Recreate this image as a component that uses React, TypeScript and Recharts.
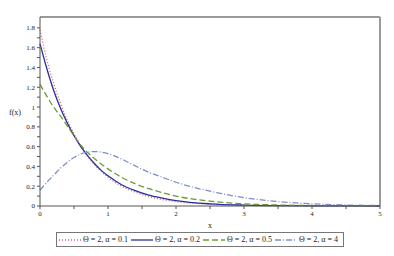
import { Line, LineChart, ReferenceLine, XAxis, YAxis } from "recharts";

const xs = [0, 0.1, 0.2, 0.3, 0.4, 0.5, 0.6, 0.7, 0.8, 0.9, 1, 1.2, 1.4, 1.6, 1.8, 2, 2.5, 3, 3.5, 4, 4.5, 5];

const alpha01 = [1.78, 1.48, 1.24, 1.04, 0.87, 0.73, 0.61, 0.5, 0.42, 0.35, 0.29, 0.2, 0.14, 0.095, 0.065, 0.045, 0.018, 0.007, 0.003, 0.001, 0, 0];
const alpha02 = [1.64, 1.39, 1.17, 0.99, 0.84, 0.71, 0.6, 0.51, 0.43, 0.36, 0.305, 0.215, 0.155, 0.11, 0.08, 0.055, 0.022, 0.009, 0.004, 0.002, 0.001, 0];
const alpha05 = [1.23, 1.11, 1.0, 0.91, 0.81, 0.71, 0.615, 0.54, 0.48, 0.425, 0.375, 0.29, 0.225, 0.175, 0.135, 0.1, 0.05, 0.022, 0.01, 0.005, 0.002, 0.001];
const alpha4 = [0.16, 0.24, 0.31, 0.38, 0.44, 0.49, 0.525, 0.545, 0.55, 0.545, 0.53, 0.475, 0.405, 0.34, 0.29, 0.24, 0.15, 0.085, 0.045, 0.022, 0.01, 0.005];

const xTicks = [0, 0.5, 1, 1.5, 2, 2.5, 3, 3.5, 4, 4.5, 5];
const yTicks = [0, 0.1, 0.2, 0.3, 0.4, 0.5, 0.6, 0.7, 0.8, 0.9, 1, 1.1, 1.2, 1.3, 1.4, 1.5, 1.6, 1.7, 1.8];

const series = [
  { key: "a01", label: "Θ = 2, α = 0.1", color: "#d0606e", dash: "1 2" },
  { key: "a02", label: "Θ = 2, α = 0.2", color: "#2a2f9c", dash: undefined },
  { key: "a05", label: "Θ = 2, α = 0.5", color: "#6e9a30", dash: "6 3" },
  { key: "a4", label: "Θ = 2, α = 4", color: "#7d8fcb", dash: "6 2 1 2" },
];

const data = xs.map((x, i) => ({
  x,
  a01: alpha01[i],
  a02: alpha02[i],
  a05: alpha05[i],
  a4: alpha4[i],
}));

const font = "Liberation Serif, serif";

const fmtY = (v: number) => {
  const r = Math.round(v * 10);
  if (r % 2 !== 0) return "";
  return String(r / 10);
};
const fmtX = (v: number) => (Number.isInteger(v) ? String(v) : "");

function LegendBox() {
  return (
    <div
      style={{
        position: "absolute",
        left: 56,
        top: 232,
        display: "flex",
        alignItems: "center",
        border: "1px solid #777",
        height: 13,
        padding: "0 2px",
        fontFamily: font,
        fontSize: 8,
        color: "#222",
        whiteSpace: "nowrap",
      }}
    >
      {series.map((s) => (
        <div key={s.key} style={{ display: "flex", alignItems: "center", marginRight: 3 }}>
          <svg width={22} height={6} style={{ marginRight: 2 }}>
            <line x1={0} y1={3} x2={22} y2={3} stroke={s.color} strokeWidth={1.3} strokeDasharray={s.dash} />
          </svg>
          <span>{s.label}</span>
        </div>
      ))}
    </div>
  );
}

export default function App() {
  return (
    <div style={{ position: "absolute", left: 0, top: 0, width: 394, height: 256, background: "#fff" }}>
      <LineChart width={394} height={256} data={data} margin={{ top: 17, right: 14, bottom: 35, left: 10 }}>
        <XAxis
          dataKey="x"
          type="number"
          domain={[0, 5]}
          ticks={xTicks}
          tickFormatter={fmtX}
          stroke="#555"
          tickSize={3}
          height={15}
          tick={{ fontSize: 7, fill: "#222", fontFamily: font }}
        />
        <YAxis
          type="number"
          domain={[0, 1.91]}
          ticks={yTicks}
          tickFormatter={fmtY}
          stroke="#555"
          tickSize={3}
          width={30}
          tick={{ fontSize: 7, fill: "#222", fontFamily: font }}
        />
        <ReferenceLine y={1.91} stroke="#999" strokeWidth={2} />
        <ReferenceLine x={5} stroke="#999" strokeWidth={2} />
        {series.map((s) => (
          <Line
            key={s.key}
            type="monotone"
            dataKey={s.key}
            stroke={s.color}
            strokeWidth={1.3}
            strokeDasharray={s.dash}
            dot={false}
            isAnimationActive={false}
          />
        ))}
      </LineChart>
      <div style={{ position: "absolute", left: 208, top: 221, fontFamily: font, fontSize: 8, color: "#222" }}>x</div>
      <div style={{ position: "absolute", left: 9, top: 108, fontFamily: font, fontSize: 8, color: "#222" }}>f(x)</div>
      <LegendBox />
    </div>
  );
}
